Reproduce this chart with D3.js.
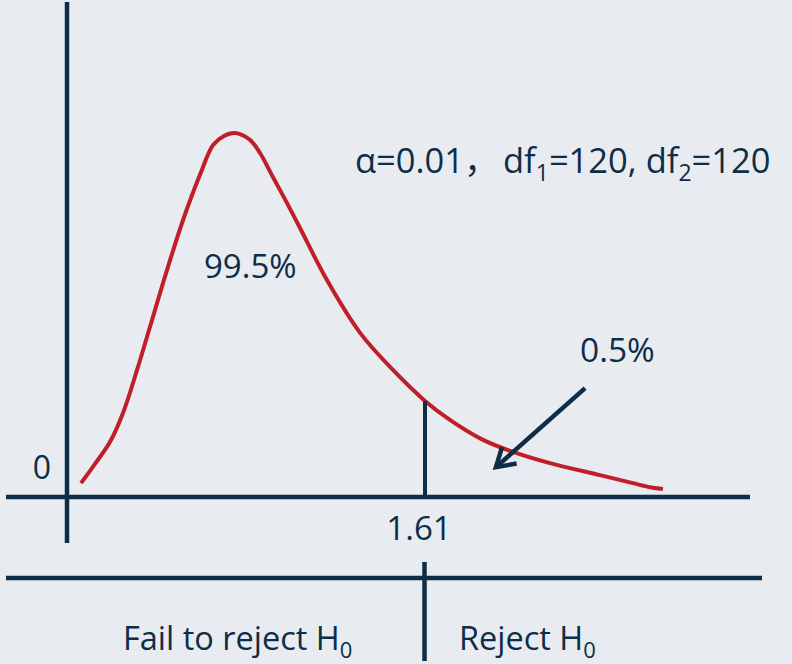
<!DOCTYPE html>
<html>
<head>
<meta charset="utf-8">
<script src="https://cdn.jsdelivr.net/npm/d3@7"></script>
<style>
  html, body { margin: 0; padding: 0; background: #e8ecf0; }
  svg { display: block; }
  text { font-family: "Open Sans", "Noto Sans", sans-serif; fill: #0e2d48; white-space: pre; }
</style>
</head>
<body>
<svg id="chart" width="792" height="664"></svg>
<script>
// ---- data ----
const curveF = [0.063, 0.126, 0.193, 0.252, 0.315, 0.373, 0.450, 0.522, 0.598, 0.657, 0.706, 0.756, 0.823, 0.868, 0.926, 0.989, 1.048, 1.169, 1.318, 1.466, 1.610, 1.722, 1.871, 2.006, 2.172, 2.397, 2.545, 2.622, 2.680];
const curveDensity = [0.038, 0.091, 0.151, 0.231, 0.349, 0.467, 0.624, 0.761, 0.885, 0.967, 0.992, 1.000, 0.981, 0.945, 0.879, 0.808, 0.739, 0.596, 0.451, 0.349, 0.264, 0.212, 0.157, 0.124, 0.093, 0.060, 0.038, 0.027, 0.022];
const criticalValue = 1.61;
const criticalLabel = "1.61";
const zeroLabel = "0";
const acceptShare = "99.5%";
const rejectShare = "0.5%";
const arrowFrom = [2.330, 0.299];
const arrowTo = [1.929, 0.082];
const regionLabels = ["Fail to reject H", "Reject H"];

// ---- layout ----
const navy = "#0e2d48", red = "#c01f29";
const svg = d3.select("#chart");
const x = d3.scaleLinear().domain([0, criticalValue]).range([67, 425]);
const y = d3.scaleLinear().domain([0, 1]).range([497, 133]);

// axes
svg.append("line").attr("x1", x(0)).attr("x2", x(0)).attr("y1", 2).attr("y2", 543)
  .attr("stroke", navy).attr("stroke-width", 4.5);
svg.append("line").attr("x1", 6).attr("x2", 750).attr("y1", y(0)).attr("y2", y(0))
  .attr("stroke", navy).attr("stroke-width", 4.5);

// curve
const pts = curveF.map((f, i) => [f, curveDensity[i]]);
svg.append("path").datum(pts)
  .attr("d", d3.line().x(d => x(d[0])).y(d => y(d[1])).curve(d3.curveCatmullRom.alpha(0.5)))
  .attr("fill", "none").attr("stroke", red).attr("stroke-width", 4).attr("stroke-linecap", "butt");

// critical marker
const critD = curveDensity[curveF.indexOf(criticalValue)];
svg.append("line").attr("x1", x(criticalValue)).attr("x2", x(criticalValue))
  .attr("y1", y(critD)).attr("y2", y(0)).attr("stroke", navy).attr("stroke-width", 4);

// labels
svg.append("text").attr("x", 42).attr("y", 479).attr("text-anchor", "middle")
  .attr("font-size", 32).text(zeroLabel);
svg.append("text").attr("x", x(criticalValue) - 6).attr("y", 540).attr("text-anchor", "middle")
  .attr("font-size", 33).text(criticalLabel);
svg.append("text").attr("x", 204).attr("y", 278).attr("font-size", 33).text(acceptShare);
svg.append("text").attr("x", 580).attr("y", 362).attr("font-size", 33.5).text(rejectShare);

// parameter annotation
const ann = svg.append("text").attr("x", 355).attr("y", 173).attr("font-size", 34.5);
ann.append("tspan").text("α=0.01");
ann.append("tspan").attr("font-family", "'Noto Sans CJK SC'").text("，");
ann.append("tspan").attr("x", 503).text("df");
ann.append("tspan").attr("font-size", 23).attr("dy", 8).text("1");
ann.append("tspan").attr("dy", -8).text("=120, df");
ann.append("tspan").attr("font-size", 23).attr("dy", 8).text("2");
ann.append("tspan").attr("dy", -8).text("=120");

// arrow
const ax1 = x(arrowFrom[0]), ay1 = y(arrowFrom[1]), ax2 = x(arrowTo[0]), ay2 = y(arrowTo[1]);
svg.append("line").attr("x1", ax1).attr("y1", ay1).attr("x2", ax2).attr("y2", ay2)
  .attr("stroke", navy).attr("stroke-width", 4.5);
const ang = Math.atan2(ay1 - ay2, ax1 - ax2);
const wing = 21, spread = 0.55;
svg.append("path")
  .attr("d", `M${ax2 + wing * Math.cos(ang - spread)},${ay2 + wing * Math.sin(ang - spread)}L${ax2},${ay2}L${ax2 + wing * Math.cos(ang + spread)},${ay2 + wing * Math.sin(ang + spread)}`)
  .attr("fill", "none").attr("stroke", navy).attr("stroke-width", 4.5).attr("stroke-linejoin", "miter");

// decision strip
svg.append("line").attr("x1", 6).attr("x2", 762).attr("y1", 578).attr("y2", 578)
  .attr("stroke", navy).attr("stroke-width", 4.5);
svg.append("line").attr("x1", 424.5).attr("x2", 424.5).attr("y1", 562).attr("y2", 661)
  .attr("stroke", navy).attr("stroke-width", 4.5);

const l1 = svg.append("text").attr("x", 123).attr("y", 650).attr("font-size", 32.5);
l1.append("tspan").text(regionLabels[0]);
l1.append("tspan").attr("font-size", 22).attr("dy", 8).text("0");
const l2 = svg.append("text").attr("x", 459).attr("y", 650).attr("font-size", 32.5);
l2.append("tspan").text(regionLabels[1]);
l2.append("tspan").attr("font-size", 22).attr("dy", 8).text("0");
</script>
</body>
</html>
